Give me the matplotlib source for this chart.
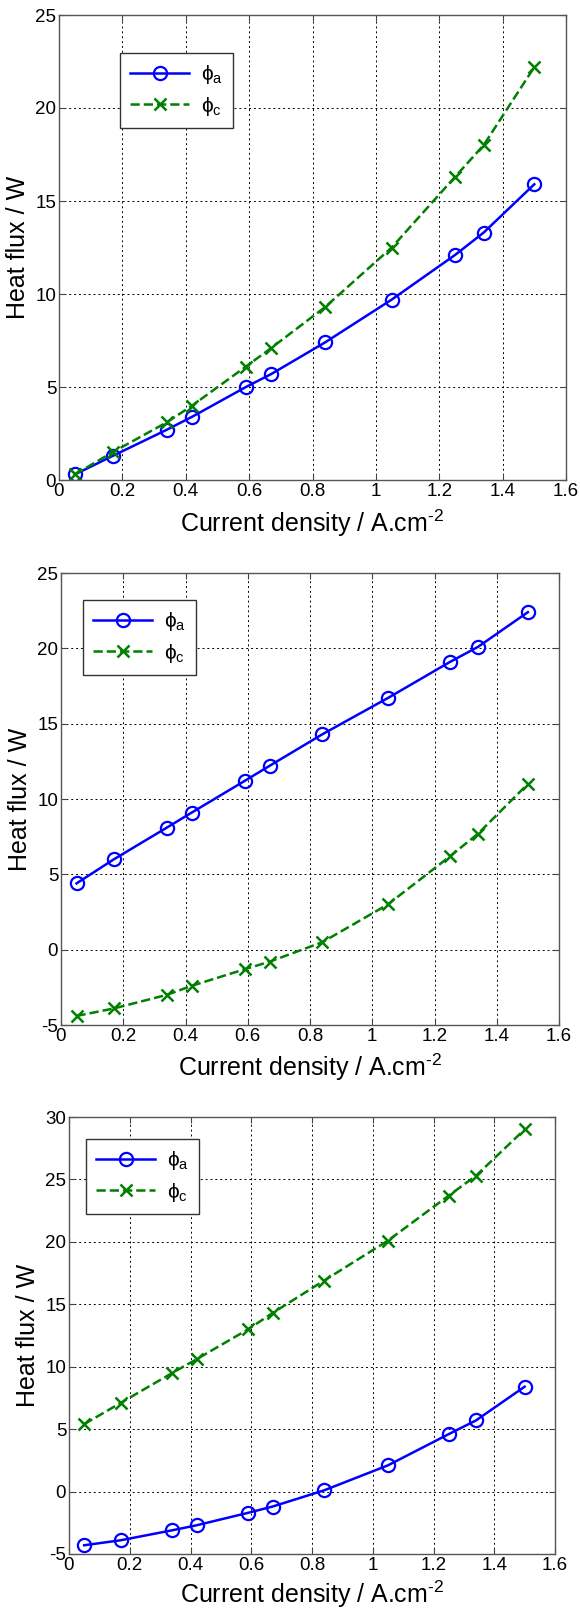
import matplotlib.pyplot as plt

plt.rcParams['font.family'] = ['Liberation Sans', 'DejaVu Sans']
plt.rcParams['mathtext.fontset'] = 'custom'
plt.rcParams['mathtext.rm'] = 'Liberation Sans'
plt.rcParams['mathtext.it'] = 'Liberation Sans'
plt.rcParams['axes.unicode_minus'] = False

current = [0.05, 0.17, 0.34, 0.42, 0.59, 0.67, 0.84, 1.05, 1.25, 1.34, 1.5]

phi_a_1 = [0.3, 1.3, 2.7, 3.4, 5.0, 5.7, 7.4, 9.7, 12.1, 13.3, 15.9]
phi_c_1 = [0.3, 1.5, 3.1, 4.0, 6.1, 7.1, 9.3, 12.5, 16.3, 18.0, 22.2]

phi_a_2 = [4.4, 6.0, 8.1, 9.1, 11.2, 12.2, 14.3, 16.7, 19.1, 20.1, 22.4]
phi_c_2 = [-4.4, -3.9, -3.0, -2.4, -1.3, -0.8, 0.5, 3.0, 6.2, 7.7, 11.0]

phi_a_3 = [-4.3, -3.9, -3.1, -2.7, -1.7, -1.2, 0.1, 2.1, 4.6, 5.7, 8.4]
phi_c_3 = [5.4, 7.1, 9.5, 10.6, 13.0, 14.3, 16.9, 20.1, 23.7, 25.3, 29.0]

W, H = 580, 1609
fig = plt.figure(figsize=(W / 100, H / 100), dpi=100)

# pixel boxes: left, right, top, bottom ; ylim ; legend box (x0, y0 top)
panels = [
    dict(box=(59, 566, 15, 480), ylim=(0, 25), yt=range(0, 26, 5),
         a=phi_a_1, c=phi_c_1, leg=(120, 53), xlab_y=523),
    dict(box=(61, 559, 573, 1025), ylim=(-5, 25), yt=range(-5, 26, 5),
         a=phi_a_2, c=phi_c_2, leg=(83, 600), xlab_y=1067),
    dict(box=(69, 555, 1117, 1554), ylim=(-5, 30), yt=range(-5, 31, 5),
         a=phi_a_3, c=phi_c_3, leg=(86, 1139), xlab_y=1594),
]

for p in panels:
    l, r, t, b = p['box']
    ax = fig.add_axes([l / W, 1 - b / H, (r - l) / W, (b - t) / H])
    ax.plot(current, p['a'], '-o', color='#0000ff', lw=1.8, ms=9.5,
            mfc='none', mew=1.6, label=r'$\phi_{a}$')
    ax.plot(current, p['c'], '--x', color='#008000', lw=1.8, ms=8,
            mew=1.8, label=r'$\phi_{c}$')
    ax.set_xlim(0, 1.6)
    ax.set_ylim(*p['ylim'])
    ax.set_xticks([0, 0.2, 0.4, 0.6, 0.8, 1, 1.2, 1.4, 1.6])
    ax.set_xticklabels(['0', '0.2', '0.4', '0.6', '0.8', '1', '1.2', '1.4', '1.6'])
    ax.set_yticks(list(p['yt']))
    ax.tick_params(direction='in', labelsize=13.5, top=True, right=True,
                   length=4, color='#444444', pad=2)
    ax.grid(True, color='black', linestyle=(0, (2, 3)), lw=0.7)
    for s in ax.spines.values():
        s.set_color('#555555')
        s.set_linewidth(1.0)
    ax.set_ylabel('Heat flux / W', fontsize=18, labelpad=4)
    fig.text((l + r) / 2 / W, 1 - p['xlab_y'] / H,
             r'Current density / A.cm$^{\text{-2}}$', fontsize=18,
             ha='center', va='center')
    lx, ly = p['leg']
    leg = ax.legend(loc='upper left',
                    bbox_to_anchor=((lx - l) / (r - l), 1 - (ly - t) / (b - t)),
                    fontsize=15, frameon=True, fancybox=False, framealpha=1,
                    edgecolor='#333333', borderaxespad=0, handlelength=2.8,
                    borderpad=0.5, labelspacing=0.4, handletextpad=0.6)
    leg.get_frame().set_linewidth(1.0)

fig.savefig('out.png', dpi=100)
